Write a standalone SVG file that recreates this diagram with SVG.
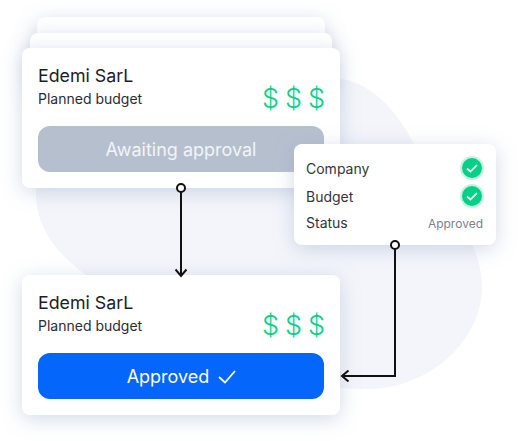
<svg xmlns="http://www.w3.org/2000/svg" width="518" height="441" viewBox="0 0 518 441">
<style>
.card{fill:#fff;filter:url(#sh)}
.t{font-family:Inter,"Liberation Sans",sans-serif}
.name{font-size:17.800px;fill:#1c1d22}
.sub{font-size:14px;fill:#2a2c33}
.d{font-size:27px;fill:#05d088;font-weight:300}
.b{font-size:18px;text-anchor:middle}
.l{font-size:14px;fill:#33353c}
.c{fill:none;stroke:#111;stroke-width:2}
.ck{fill:none;stroke:#fff;stroke-width:1.700}
</style>
<defs>
<filter id="sh" x="-25%" y="-40%" width="150%" height="190%">
<feDropShadow dx="0" dy="4" stdDeviation="10" flood-color="#92a5c6" flood-opacity=".42"/>
</filter>
<marker id="ah" viewBox="0 0 12 12" refX="10" refY="6" markerWidth="12" markerHeight="12" markerUnits="userSpaceOnUse" orient="auto">
<path d="M3.500 .5L10 6L3.500 11.500" fill="none" stroke="#111" stroke-width="2"/>
</marker>
</defs>
<path id="blob" fill="#f3f5fa" d="M36 190C40 130 120 100 200 95C260 90 300 70 340 78C385 88 405 125 425 165C442 200 480 235 482 285C483 340 430 388 370 389C300 391 200 360 120 300C70 265 35 240 36 190Z"/>
<g id="card-back-2"><rect class="card" x="37" y="17" width="288" height="60" rx="8"/></g>
<g id="card-back-1"><rect class="card" x="30" y="33" width="302" height="60" rx="8"/></g>
<g id="card-pending">
<rect class="card" x="22" y="48" width="318" height="140" rx="8"/>
<text class="t name" x="38" y="82">Edemi SarL</text>
<text class="t sub" x="38" y="104">Planned budget</text>
<text class="t d" x="262" y="108">$</text><text class="t d" x="285" y="108">$</text><text class="t d" x="308" y="108">$</text>
<rect x="38" y="126" width="286" height="46" rx="12" fill="#b6bfce"/>
<text class="t b" x="181" y="156" fill="#f2f4f8">Awaiting approval</text>
</g>
<g id="card-approved">
<rect class="card" x="22" y="275" width="318" height="140" rx="8"/>
<text class="t name" x="38" y="309">Edemi SarL</text>
<text class="t sub" x="38" y="331">Planned budget</text>
<text class="t d" x="262" y="335">$</text><text class="t d" x="285" y="335">$</text><text class="t d" x="308" y="335">$</text>
<rect x="38" y="353" width="286" height="46" rx="12" fill="#0466fb"/>
<text class="t b" x="168" y="383" fill="#fff">Approved</text>
<path d="M219 377L225 382.500L235 371" fill="none" stroke="#fff" stroke-width="1.700"/>
</g>
<g id="panel">
<rect class="card" x="294" y="144" width="202" height="101" rx="8"/>
<text class="t l" x="306" y="174">Company</text>
<text class="t l" x="306" y="202">Budget</text>
<text class="t l" x="306" y="228">Status</text>
<text class="t" x="483" y="228" font-size="12px" fill="#7d808a" text-anchor="end">Approved</text>
<circle cx="472" cy="168" r="11" fill="#05d088" stroke="#c5f2e0" stroke-width="2"/>
<path class="ck" d="M467 168.500L470.500 171.500L477 165"/>
<circle cx="472" cy="196" r="11" fill="#05d088" stroke="#c5f2e0" stroke-width="2"/>
<path class="ck" d="M467 196.500L470.500 199.500L477 193"/>
</g>
<g id="connectors">
<path class="c" d="M181 192V276" marker-end="url(#ah)"/>
<circle cx="181" cy="188" r="4" fill="#fff" stroke="#111" stroke-width="2"/>
<path class="c" d="M395 249V376H342" marker-end="url(#ah)"/>
<circle cx="395" cy="245" r="4" fill="#fff" stroke="#111" stroke-width="2"/>
</g>
</svg>
